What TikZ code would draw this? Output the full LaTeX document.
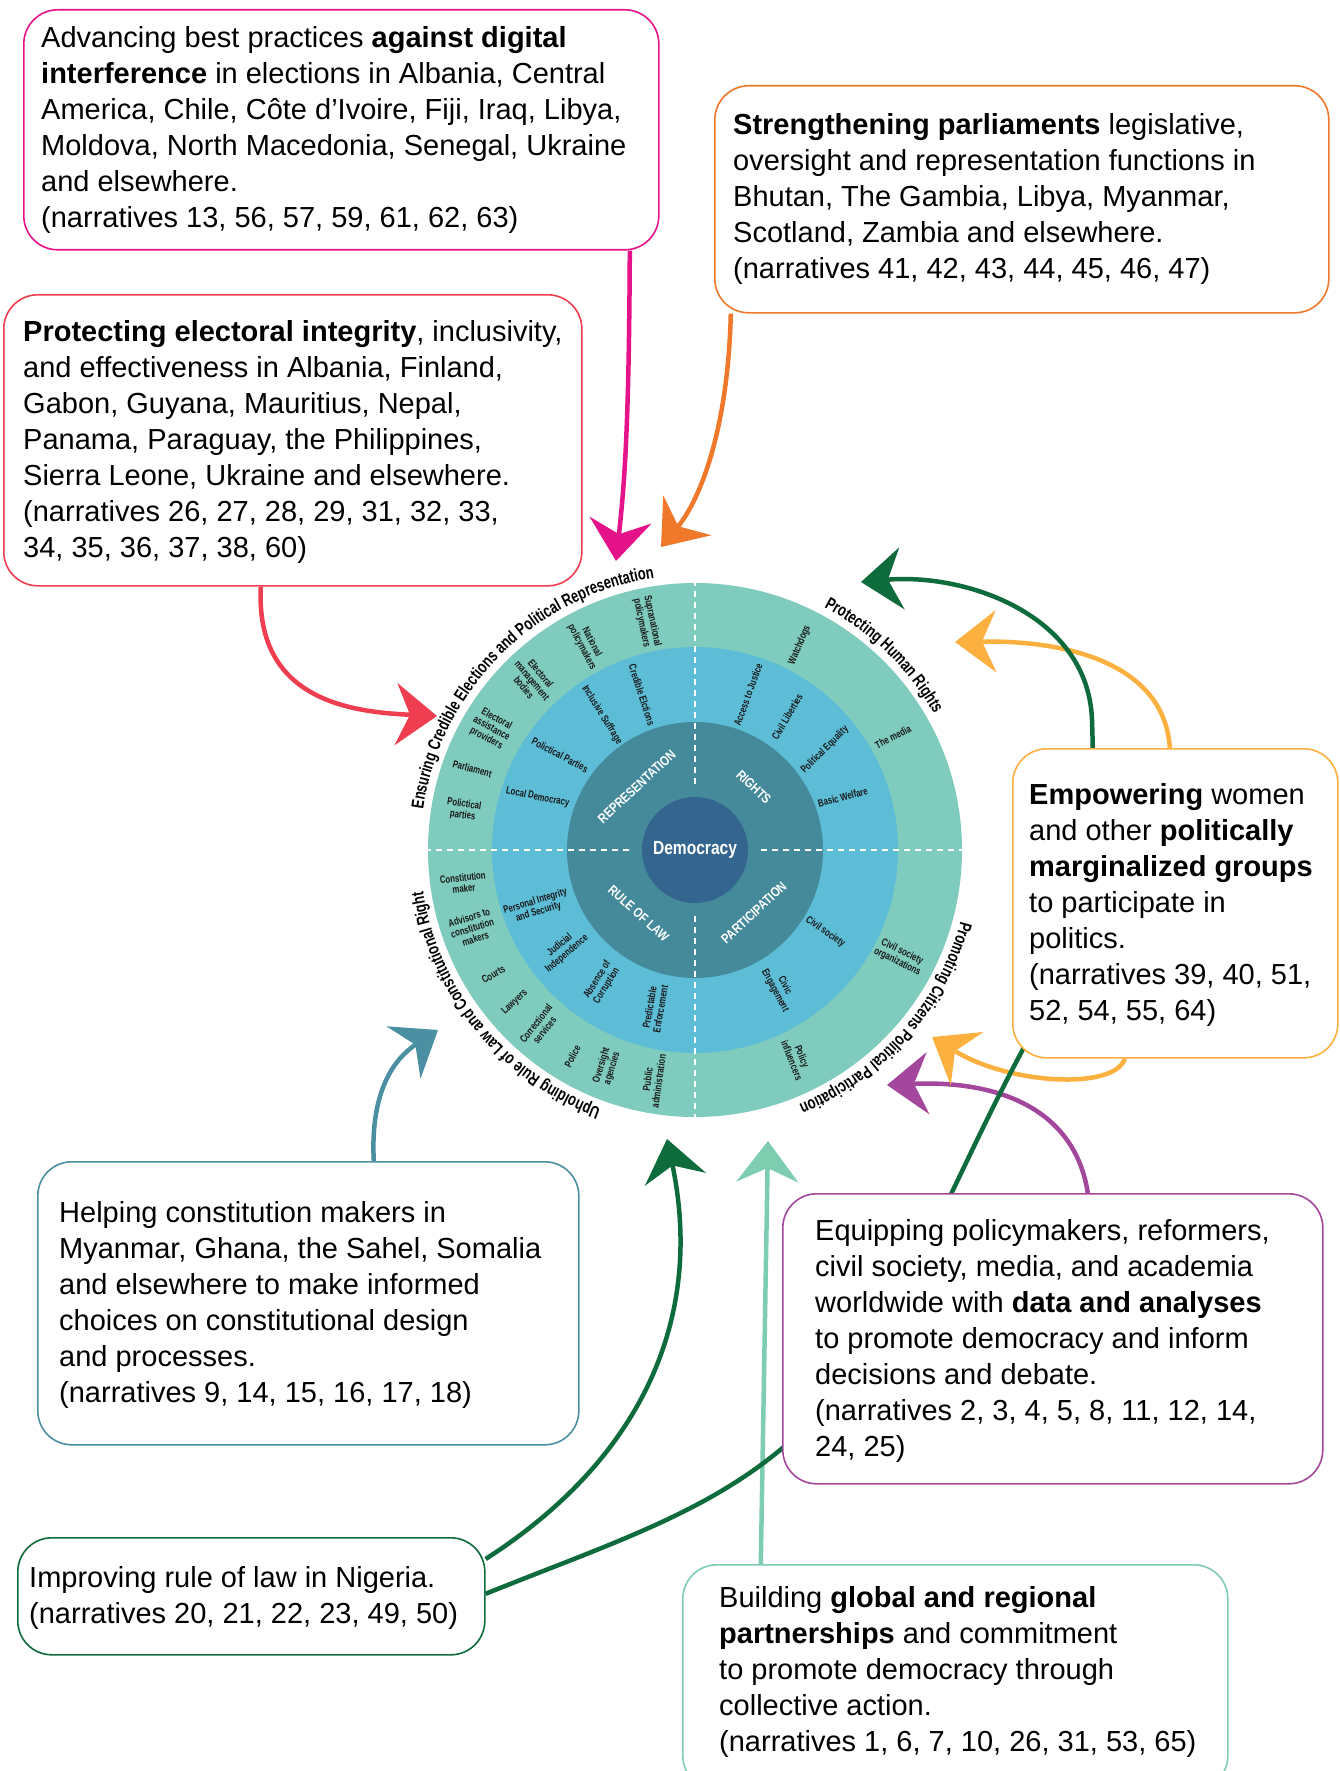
\documentclass[tikz,border=0pt]{standalone}
\usepackage{fontspec}
\setmainfont{Liberation Sans}
\newfontfamily\condfont[FakeStretch=0.82]{Liberation Sans}
\newfontfamily\narrowfont[FakeStretch=0.74]{Liberation Sans}
\usetikzlibrary{arrows.meta,decorations.text,calc}
\definecolor{cMag}{HTML}{E4138A}
\definecolor{cOra}{HTML}{F0782A}
\definecolor{cRed}{HTML}{EE3E4F}
\definecolor{cYel}{HTML}{FBB040}
\definecolor{cTeal}{HTML}{4A90A2}
\definecolor{cPur}{HTML}{A3479C}
\definecolor{cDkG}{HTML}{0E6B3B}
\definecolor{cLtG}{HTML}{7ECDB1}
\definecolor{cOuter}{HTML}{7FCBBD}
\definecolor{cMid}{HTML}{5DBDD7}
\definecolor{cInner}{HTML}{458A9B}
\definecolor{cCenter}{HTML}{34658F}
\newcommand\arcfnt{\narrowfont\bfseries\fontsize{17.5}{17.5}\selectfont}
\pgfdeclarelayer{paper}
\pgfdeclarelayer{bg}
\pgfsetlayers{paper,bg,main}
\begin{document}
\begin{tikzpicture}[x=1pt,y=1pt,
  box/.style={draw, rounded corners=34pt, line width=1.6pt, fill=white, anchor=north west, inner sep=0pt},
  txt/.style={anchor=base west, align=left, inner sep=0pt, font=\fontsize{29}{36}\selectfont, text=black},
  lbl/.style={align=center, inner sep=0pt, font=\narrowfont\bfseries\fontsize{10.5}{11}\selectfont, text=black!90},
  ringlbl/.style={align=center, inner sep=0pt, font=\condfont\bfseries\fontsize{13.5}{14}\selectfont, text=white},
  conn/.style={line width=4.5pt, -{Stealth[length=41pt,width=62pt,inset=14pt]}},
  dashline/.style={white, line width=1.6pt, dash pattern=on 6pt off 5pt},
  arctext/.style={decorate, decoration={text along path, text align=left, text={#1}}}
]
\useasboundingbox (0,0) rectangle (1340,-1771);
\begin{pgfonlayer}{paper}
\fill[white] (0,0) rectangle (1340,-1771);
\end{pgfonlayer}

% ---------- wheel ----------
\coordinate (c) at (695,-850);
\fill[cOuter] (c) circle[radius=267pt];
\fill[cMid] (c) circle[radius=203pt];
\fill[cInner] (c) circle[radius=128pt];
\foreach \a in {0,90,180,270}
  \draw[dashline] ($(c)+(\a:66pt)$) -- ($(c)+(\a:267pt)$);
\node[circle, fill=cCenter, minimum size=106pt, inner sep=0pt, text=white,
      font=\condfont\bfseries\fontsize{19}{20}\selectfont] (dem) at (c) {Democracy};

% inner ring
\node[ringlbl,rotate=43]  (r1) at ($(c)+(132.6:86pt)$) {REPRESENTATION};
\node[ringlbl,rotate=-43] (r2) at ($(c)+(46.9:86pt)$) {RIGHTS};
\node[ringlbl,rotate=-42] (r3) at ($(c)+(228.4:85pt)$) {RULE OF LAW};
\node[ringlbl,rotate=43]  (r4) at ($(c)+(-46.9:86pt)$) {PARTICIPATION};

% middle ring
\node[lbl,rotate=-72] (m1) at ($(c)+(108.9:164pt)$) {Credible Elctions};
\node[lbl,rotate=-58] (m2) at ($(c)+(124.6:164pt)$) {Inclusive Suffrage};
\node[lbl,rotate=-28] (m3) at ($(c)+(144.9:165pt)$) {Polictical Parties};
\node[lbl,rotate=-12] (m4) at ($(c)+(161.5:166pt)$) {Local Democracy};
\node[lbl,rotate=17]  (m5) at ($(c)+(199.8:168pt)$) {Personal Integrity\\and Security};
\node[lbl,rotate=40]  (m6) at ($(c)+(217.1:165pt)$) {Judicial\\Independence};
\node[lbl,rotate=58]  (m7) at ($(c)+(235:162pt)$) {Absence of\\Corruption};
\node[lbl,rotate=80]  (m8) at ($(c)+(255.8:163pt)$) {Predictable\\Enforcement};
\node[lbl,rotate=70]  (m9) at ($(c)+(71.1:164pt)$) {Access to Justice};
\node[lbl,rotate=60]  (m10) at ($(c)+(55.3:162pt)$) {Civil Liberties};
\node[lbl,rotate=45]  (m11) at ($(c)+(37.6:164pt)$) {Political Equality};
\node[lbl,rotate=15]  (m12) at ($(c)+(19.7:157pt)$) {Basic Welfare};
\node[lbl,rotate=-35] (m13) at ($(c)+(-32.2:154pt)$) {Civil society};
\node[lbl,rotate=-62] (m14) at ($(c)+(-58.4:162pt)$) {Civic\\Engagement};

% outer ring
\node[lbl,rotate=-78] (o1) at ($(c)+(101.9:233pt)$) {Supranational\\policymakers};
\node[lbl,rotate=-62] (o2) at ($(c)+(117.8:232pt)$) {National\\policymakers};
\node[lbl,rotate=-50] (o3) at ($(c)+(133.8:235pt)$) {Electoral\\management\\bodies};
\node[lbl,rotate=-28] (o4) at ($(c)+(149.2:237pt)$) {Electoral\\assistance\\providers};
\node[lbl,rotate=-15] (o5) at ($(c)+(160:237pt)$) {Parliament};
\node[lbl,rotate=-8]  (o6) at ($(c)+(170.2:235pt)$) {Polictical\\parties};
\node[lbl,rotate=6]   (o7) at ($(c)+(188.1:234pt)$) {Constitution\\maker};
\node[lbl,rotate=17]  (o8) at ($(c)+(199.3:236pt)$) {Advisors to\\constitution\\makers};
\node[lbl,rotate=30]  (o9) at ($(c)+(211.7:237pt)$) {Courts};
\node[lbl,rotate=43]  (o10) at ($(c)+(220.2:236pt)$) {Lawyers};
\node[lbl,rotate=52]  (o11) at ($(c)+(228.8:235pt)$) {Correctional\\services};
\node[lbl,rotate=63]  (o12) at ($(c)+(239.3:240pt)$) {Police};
\node[lbl,rotate=73]  (o13) at ($(c)+(247.9:234pt)$) {Oversight\\agencies};
\node[lbl,rotate=82]  (o14) at ($(c)+(259.7:234pt)$) {Public\\administration};
\node[lbl,rotate=67]  (o15) at ($(c)+(62.9:230pt)$) {Watchdogs};
\node[lbl,rotate=27]  (o16) at ($(c)+(29.7:228pt)$) {The media};
\node[lbl,rotate=-26] (o17) at ($(c)+(-27.6:231pt)$) {Civil society\\organizations};
\node[lbl,rotate=-68] (o18) at ($(c)+(-63.9:232pt)$) {Policy\\influencers};

% curved headings
\path[arctext={|\arcfnt|Ensuring Credible Elections and Political Representation}]
  ($(c)+(171.5:275pt)$) arc[start angle=171.5, end angle=70, radius=275pt];
\path[arctext={|\arcfnt|Protecting Human Rights}]
  ($(c)+(62:275pt)$) arc[start angle=62, end angle=10, radius=275pt];
\path[arctext={|\arcfnt|Promoting Citizens Political Participation}]
  ($(c)+(-15:275pt)$) arc[start angle=-15, end angle=-95, radius=275pt];
\path[arctext={|\arcfnt|Upholding Rule of Law and Constitutional Right}]
  ($(c)+(250:275pt)$) arc[start angle=250, end angle=160, radius=275pt];

% ---------- boxes ----------
\node[box, draw=cMag,  minimum width=635pt, minimum height=240pt] (b1) at (23,-9) {};
\node[box, draw=cOra,  minimum width=614pt, minimum height=227pt] (b2) at (714,-85) {};
\node[box, draw=cRed,  minimum width=578pt, minimum height=291pt] (b3) at (3,-294) {};
\node[box, draw=cYel,  minimum width=325pt, minimum height=309pt] (b4) at (1012,-748) {};
\node[box, draw=cTeal, minimum width=541pt, minimum height=283pt] (b5) at (37,-1161) {};
\node[box, draw=cPur,  minimum width=540pt, minimum height=290pt] (b6) at (782,-1193) {};
\node[box, draw=cDkG,  minimum width=467pt, minimum height=117pt] (b7) at (17,-1537) {};
\node[box, draw=cLtG,  minimum width=545pt, minimum height=225pt] (b8) at (682,-1564) {};

\node[txt] (t1) at (41,-228) {Advancing best practices \textbf{against digital}\\
\textbf{interference} in elections in Albania, Central\\
America, Chile, Côte d’Ivoire, Fiji, Iraq, Libya,\\
Moldova, North Macedonia, Senegal, Ukraine\\
and elsewhere.\\
(narratives 13, 56, 57, 59, 61, 62, 63)};
\node[txt] (t2) at (733,-279) {\textbf{Strengthening parliaments} legislative,\\
oversight and representation functions in\\
Bhutan, The Gambia, Libya, Myanmar,\\
Scotland, Zambia and elsewhere.\\
(narratives 41, 42, 43, 44, 45, 46, 47)};
\node[txt] (t3) at (23,-557) {\textbf{Protecting electoral integrity}, inclusivity,\\
and effectiveness in Albania, Finland,\\
Gabon, Guyana, Mauritius, Nepal,\\
Panama, Paraguay, the Philippines,\\
Sierra Leone, Ukraine and elsewhere.\\
(narratives 26, 27, 28, 29, 31, 32, 33,\\
34, 35, 36, 37, 38, 60)};
\node[txt] (t4) at (1029,-1020) {\textbf{Empowering} women\\
and other \textbf{politically}\\
\textbf{marginalized groups}\\
to participate in\\
politics.\\
(narratives 39, 40, 51,\\
52, 54, 55, 64)};
\node[txt] (t5) at (59,-1402) {Helping constitution makers in\\
Myanmar, Ghana, the Sahel, Somalia\\
and elsewhere to make informed\\
choices on constitutional design\\
and processes.\\
(narratives 9, 14, 15, 16, 17, 18)};
\node[txt] (t6) at (815,-1456) {Equipping policymakers, reformers,\\
civil society, media, and academia\\
worldwide with \textbf{data and analyses}\\
to promote democracy and inform\\
decisions and debate.\\
(narratives 2, 3, 4, 5, 8, 11, 12, 14,\\
24, 25)};
\node[txt] (t7) at (29,-1623) {Improving rule of law in Nigeria.\\
(narratives 20, 21, 22, 23, 49, 50)};
\node[txt] (t8) at (719,-1751) {Building \textbf{global and regional}\\
\textbf{partnerships} and commitment\\
to promote democracy through\\
collective action.\\
(narratives 1, 6, 7, 10, 26, 31, 53, 65)};

% ---------- arrow targets ----------
\coordinate (tM) at (616,-561);
\coordinate (tO) at (661,-547);
\coordinate (tR) at (437,-716);
\coordinate (tT) at (438,-1030);
\coordinate (tL) at (768,-1141);
\coordinate (tP) at (887,-1085);
\coordinate (tY1) at (955,-642);
\coordinate (tY2) at (932,-1037);
\coordinate (tG1) at (667,-1139);
\coordinate (tG2) at (861,-582);

\begin{pgfonlayer}{bg}
\draw[conn, cMag] ([xshift=288.5pt]b1.south) .. controls (629,-420) and (625,-480) .. (tM);
\draw[conn, cOra] ([xshift=-291pt]b2.south) .. controls (728,-430) and (700,-500) .. (tO);
\draw[conn, cRed] ([xshift=-32pt]b3.south) .. controls (255,-700) and (350,-712) .. (tR);
\draw[conn, cTeal] ([xshift=65.5pt]b5.north) .. controls (370,-1090) and (395,-1058) .. (tT);
\draw[conn, cLtG] ([xshift=-194.5pt]b8.north) -- (tL);
\draw[conn, cPur] ([xshift=35pt]b6.north) .. controls (1075,-1110) and (1000,-1080) .. (tP);
\draw[conn, cYel] ([xshift=-5.5pt]b4.north) .. controls (1165,-670) and (1080,-640) .. (tY1);
\draw[conn, cYel] ([xshift=-50.5pt]b4.south) .. controls (1115,-1090) and (1010,-1085) .. (tY2);
\draw[conn, cDkG] ([yshift=-22pt]b7.north east) .. controls (640,-1460) and (705,-1320) .. (tG1);
\draw[conn, cDkG] ([yshift=2.5pt]b7.east) to[out=22,in=240] (880,-1330)
   to[out=60,in=242] (1022,-1051) to[out=62,in=272] (1092,-720) to[out=92,in=5] (tG2);
\end{pgfonlayer}
\end{tikzpicture}
\end{document}
